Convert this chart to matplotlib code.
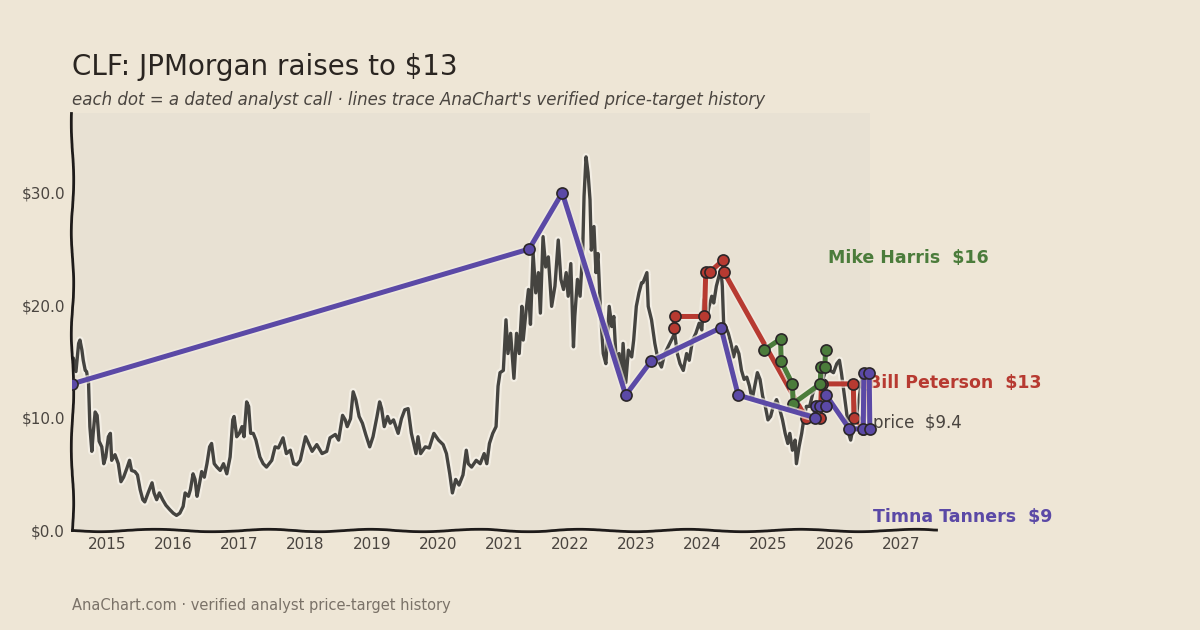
import numpy as np
import matplotlib.pyplot as plt
import matplotlib.patheffects as pe

# closing price, decimal year vs USD
price_t = [2014.47, 2014.49, 2014.53, 2014.57, 2014.59, 2014.62, 2014.64, 2014.67, 2014.69, 2014.72,
           2014.74, 2014.77, 2014.79, 2014.82, 2014.85, 2014.88, 2014.92, 2014.95, 2014.98, 2015.02,
           2015.05, 2015.07, 2015.12, 2015.17, 2015.21, 2015.25, 2015.30, 2015.34, 2015.37, 2015.42,
           2015.46, 2015.50, 2015.54, 2015.57, 2015.62, 2015.68, 2015.71, 2015.75, 2015.79, 2015.84,
           2015.89, 2015.95, 2016.00, 2016.05, 2016.10, 2016.15, 2016.18, 2016.23, 2016.26, 2016.30,
           2016.33, 2016.36, 2016.39, 2016.43, 2016.47, 2016.51, 2016.55, 2016.58, 2016.62, 2016.66,
           2016.71, 2016.76, 2016.81, 2016.86, 2016.90, 2016.92, 2016.96, 2017.00, 2017.04, 2017.07,
           2017.11, 2017.14, 2017.17, 2017.21, 2017.25, 2017.31, 2017.36, 2017.41, 2017.49, 2017.54,
           2017.59, 2017.66, 2017.71, 2017.77, 2017.82, 2017.87, 2017.92, 2018.00, 2018.10, 2018.17,
           2018.25, 2018.32, 2018.37, 2018.45, 2018.50, 2018.56, 2018.60, 2018.63, 2018.68, 2018.72,
           2018.76, 2018.81, 2018.86, 2018.91, 2018.97, 2019.02, 2019.08, 2019.12, 2019.15, 2019.19,
           2019.24, 2019.28, 2019.33, 2019.40, 2019.45, 2019.50, 2019.55, 2019.60, 2019.67, 2019.70,
           2019.74, 2019.81, 2019.87, 2019.94, 2020.01, 2020.08, 2020.13, 2020.18, 2020.22, 2020.27,
           2020.32, 2020.38, 2020.43, 2020.46, 2020.51, 2020.58, 2020.64, 2020.70, 2020.74, 2020.78,
           2020.83, 2020.88, 2020.91, 2020.94, 2020.99, 2021.03, 2021.06, 2021.10, 2021.15, 2021.19,
           2021.23, 2021.27, 2021.29, 2021.33, 2021.37, 2021.40, 2021.44, 2021.48, 2021.52, 2021.55,
           2021.59, 2021.63, 2021.67, 2021.72, 2021.77, 2021.82, 2021.86, 2021.90, 2021.94, 2021.97,
           2022.01, 2022.05, 2022.07, 2022.11, 2022.15, 2022.19, 2022.21, 2022.24, 2022.27, 2022.30,
           2022.32, 2022.36, 2022.39, 2022.42, 2022.46, 2022.50, 2022.54, 2022.59, 2022.63, 2022.66,
           2022.70, 2022.74, 2022.78, 2022.80, 2022.84, 2022.88, 2022.93, 2022.96, 2023.00, 2023.04,
           2023.08, 2023.10, 2023.16, 2023.18, 2023.23, 2023.28, 2023.33, 2023.38, 2023.43, 2023.48,
           2023.53, 2023.58, 2023.62, 2023.66, 2023.71, 2023.76, 2023.80, 2023.85, 2023.90, 2023.95,
           2023.99, 2024.02, 2024.06, 2024.10, 2024.14, 2024.17, 2024.21, 2024.25, 2024.28, 2024.30,
           2024.32, 2024.35, 2024.39, 2024.43, 2024.47, 2024.51, 2024.55, 2024.59, 2024.63, 2024.67,
           2024.71, 2024.75, 2024.79, 2024.83, 2024.87, 2024.91, 2024.95, 2024.99, 2025.03, 2025.07,
           2025.12, 2025.17, 2025.21, 2025.25, 2025.29, 2025.32, 2025.36, 2025.40, 2025.42, 2025.46,
           2025.50, 2025.53, 2025.57, 2025.62, 2025.67, 2025.72, 2025.78, 2025.83, 2025.88, 2025.93,
           2025.98, 2026.03, 2026.07, 2026.10, 2026.14, 2026.18, 2026.21, 2026.24, 2026.28, 2026.33,
           2026.38, 2026.41, 2026.46, 2026.49, 2026.53]
price_v = [14.5, 15.3, 14.1, 16.6, 16.9, 16.0, 15.1, 14.2, 14.1, 13.1,
           9.2, 7.0, 8.6, 10.5, 10.2, 7.9, 7.4, 5.9, 6.5, 8.3,
           8.6, 6.2, 6.7, 5.9, 4.3, 4.7, 5.5, 6.2, 5.3, 5.2,
           4.9, 3.6, 2.7, 2.5, 3.3, 4.2, 3.3, 2.7, 3.3, 2.7,
           2.2, 1.8, 1.5, 1.3, 1.5, 2.1, 3.3, 3.0, 3.6, 5.0,
           4.5, 3.0, 3.9, 5.2, 4.7, 5.9, 7.4, 7.7, 5.9, 5.6,
           5.3, 5.9, 5.0, 6.5, 9.8, 10.1, 8.3, 8.6, 9.2, 8.3,
           11.4, 11.0, 8.6, 8.6, 8.0, 6.5, 5.9, 5.6, 6.2, 7.4,
           7.3, 8.2, 6.8, 7.1, 5.9, 5.8, 6.2, 8.3, 7.0, 7.6,
           6.8, 7.0, 8.2, 8.5, 8.0, 10.2, 9.8, 9.2, 9.9, 12.3,
           11.6, 10.1, 9.5, 8.5, 7.4, 8.3, 10.1, 11.4, 10.8, 9.2,
           10.1, 9.5, 9.8, 8.6, 9.9, 10.7, 10.8, 8.6, 6.8, 8.3,
           6.8, 7.4, 7.3, 8.6, 8.0, 7.6, 6.8, 5.0, 3.3, 4.5,
           4.0, 4.9, 7.1, 5.9, 5.6, 6.2, 5.9, 6.8, 5.9, 7.7,
           8.6, 9.2, 12.8, 14.0, 14.2, 18.7, 15.7, 17.5, 13.5, 17.5,
           15.7, 19.9, 16.9, 19.3, 21.4, 18.3, 24.6, 21.1, 22.9, 19.3,
           26.1, 23.4, 24.3, 19.9, 21.7, 25.8, 22.3, 21.4, 22.9, 20.8,
           23.7, 16.3, 19.0, 22.3, 20.8, 24.9, 29.7, 33.2, 31.8, 29.4,
           24.9, 27.0, 22.9, 24.6, 19.3, 15.7, 14.8, 19.9, 18.1, 19.0,
           14.5, 15.7, 13.4, 16.6, 13.1, 16.0, 15.4, 16.9, 19.9, 21.1,
           22.0, 22.0, 22.9, 19.9, 18.7, 16.6, 15.1, 14.5, 15.7, 16.3,
           16.9, 17.5, 15.7, 14.8, 14.2, 15.7, 15.1, 16.9, 17.5, 18.4,
           17.8, 20.5, 18.7, 19.9, 20.8, 20.2, 21.7, 22.6, 23.2, 21.7,
           18.4, 18.1, 17.5, 16.6, 15.4, 16.3, 15.7, 14.2, 13.4, 13.6,
           12.8, 11.6, 12.8, 14.0, 13.4, 11.9, 11.0, 9.8, 10.1, 11.0,
           11.6, 10.7, 9.8, 8.6, 7.7, 8.6, 7.1, 8.0, 5.9, 7.4,
           8.6, 9.8, 11.0, 11.0, 12.2, 12.8, 13.1, 13.6, 14.5, 14.2,
           14.0, 14.8, 15.1, 14.0, 12.2, 10.4, 8.6, 8.0, 9.2, 10.4,
           12.2, 13.6, 13.4, 10.4, 9.4]

# analyst price-target calls
peterson_t = [2023.57, 2023.58, 2024.03, 2024.05, 2024.12, 2024.31, 2024.32,
              2025.56, 2025.78, 2025.80, 2026.28, 2026.29, 2026.43, 2026.45]
peterson_v = [18, 19, 19, 23, 23, 24, 23, 10, 10, 13, 13, 10, 9, 13]

harris_t = [2024.93, 2025.18, 2025.19, 2025.36, 2025.37, 2025.78, 2025.79, 2025.85, 2025.86]
harris_v = [16, 17, 15, 13, 11.25, 13, 14.5, 14.5, 16]

tanners_t = [2014.47, 2021.38, 2021.88, 2022.84, 2023.22, 2024.28, 2024.54, 2025.70,
             2025.71, 2025.78, 2025.86, 2025.87, 2026.22, 2026.43, 2026.44, 2026.52, 2026.53]
tanners_v = [13, 25, 30, 12, 15, 18, 12, 10, 11, 11, 11, 12, 9, 9, 14, 14, 9]

year_ticks = list(range(2015, 2028))
value_ticks = [0, 10, 20, 30]

BG = '#EEE6D6'
PLOT_BG = '#E8E1D3'
INK = '#4A4540'
PURPLE = '#5B49A6'
RED = '#B73A31'
GREEN = '#4B7C3B'

plt.rcParams['font.family'] = ['DejaVu Sans']

fig = plt.figure(figsize=(12, 6.3), dpi=100, facecolor=BG)
ax = fig.add_axes([0.06, 0.1587, 0.72, 0.6619])
ax.set_facecolor(BG)
ax.set_xlim(2014.47, 2027.53)
ax.set_ylim(0, 37.1)

# shaded data region
ax.axvspan(price_t[0], price_t[-1], color=PLOT_BG, lw=0, zorder=0)

# price line with a light halo
ax.plot(price_t, price_v, color='#454440', lw=2.4, zorder=2, solid_joinstyle='round',
        path_effects=[pe.withStroke(linewidth=5.5, foreground='#F3EEE4')])


def plot_calls(t, v, color, z):
    ax.plot(t, v, color=color, lw=3.6, zorder=z, solid_joinstyle='round',
            path_effects=[pe.withStroke(linewidth=6, foreground='#F1ECE2', alpha=0.7)])
    ax.plot(t, v, 'o', ms=8, mfc=color, mec='#2B2628', mew=1.2, zorder=z + 0.5)


plot_calls(peterson_t, peterson_v, RED, 3)
plot_calls(harris_t, harris_v, GREEN, 4)
plot_calls(tanners_t, tanners_v, PURPLE, 5)

# end labels
lab = dict(fontsize=12.5, fontweight='bold', va='center', clip_on=False)
ax.text(2025.90, 24.2, 'Mike Harris  $16', color=GREEN, **lab)
ax.text(2026.50, 13.05, 'Bill Peterson  $13', color=RED, **lab)
ax.text(2026.58, 1.15, 'Timna Tanners  $9', color=PURPLE, **lab)
ax.text(2026.58, 9.5, 'price  $9.4', color=INK, fontsize=12, va='center', clip_on=False)

# axes styling, hand-drawn spines
for side in ['top', 'right']:
    ax.spines[side].set_visible(False)
for side in ['left', 'bottom']:
    ax.spines[side].set_color('#1E1B1A')
    ax.spines[side].set_linewidth(2)
    ax.spines[side].set_sketch_params(scale=1.2, length=120, randomness=2)

ax.set_xticks(year_ticks)
ax.set_xticklabels([str(y) for y in year_ticks])
ax.set_yticks(value_ticks)
ax.set_yticklabels(['$%.1f' % v for v in value_ticks])
ax.tick_params(length=0, labelsize=11, colors=INK, pad=5)

fig.text(0.06, 0.881, 'CLF: JPMorgan raises to $13', fontsize=20, color='#2A2521', va='baseline')
fig.text(0.06, 0.833, "each dot = a dated analyst call \u00b7 lines trace AnaChart's verified price-target history",
         fontsize=12, style='italic', color=INK, va='baseline')
fig.text(0.06, 0.031, 'AnaChart.com \u00b7 verified analyst price-target history',
         fontsize=10.5, color='#7A7268', va='baseline')

fig.savefig('out.png', dpi=100, facecolor=BG)
